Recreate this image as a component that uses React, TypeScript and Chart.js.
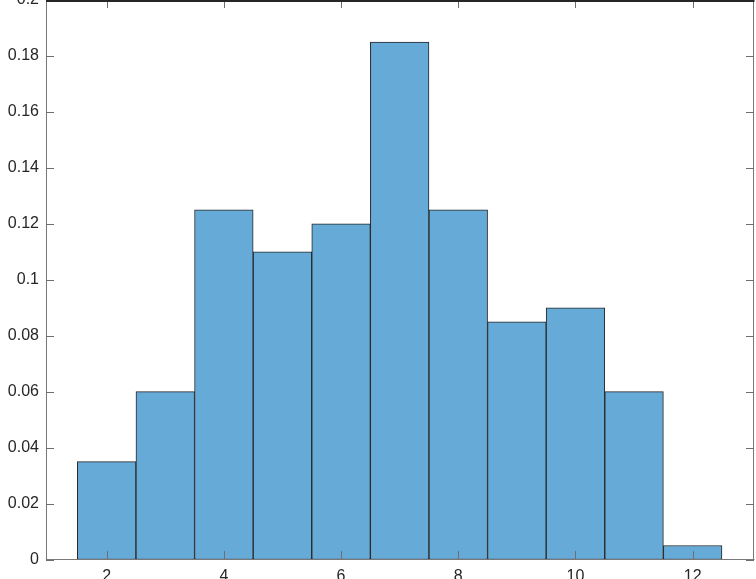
import React, { useEffect, useRef } from "react";
import { Chart, registerables } from "chart.js";

Chart.register(...registerables);

const binCenters = [2, 3, 4, 5, 6, 7, 8, 9, 10, 11, 12];
const probabilities = [0.035, 0.06, 0.125, 0.11, 0.12, 0.185, 0.125, 0.085, 0.09, 0.06, 0.005];
const xTickValues = [2, 4, 6, 8, 10, 12];
const xTickLabels = ["2", "4", "6", "8", "10", "12"];
const yTickValues = [0, 0.02, 0.04, 0.06, 0.08, 0.1, 0.12, 0.14, 0.16, 0.18, 0.2];
const yTickLabels = ["0", "0.02", "0.04", "0.06", "0.08", "0.1", "0.12", "0.14", "0.16", "0.18", "0.2"];

const FONT = { family: "'Liberation Sans', Arial, Helvetica, sans-serif", size: 16 };
const TEXT = "#262626";

const boxPlugin = {
  id: "matlabBox",
  afterDraw(chart: any) {
    const { ctx, chartArea, scales } = chart;
    const { left, right, top, bottom } = chartArea;
    const x = scales.x;
    const y = scales.y;
    ctx.save();
    ctx.fillStyle = "rgb(120,120,120)";
    ctx.fillRect(Math.floor(left), top, 1, bottom - top);
    ctx.fillRect(Math.floor(right) - 1, top, 1, bottom - top);
    ctx.fillRect(left, Math.floor(bottom), right - left, 1);
    const tl = 8;
    ctx.fillStyle = "rgb(110,110,110)";
    xTickValues.forEach((v) => {
      const px = Math.round(x.getPixelForValue(v));
      ctx.fillRect(px, Math.floor(bottom) - tl, 1, tl);
      ctx.fillRect(px, top, 1, tl);
    });
    yTickValues.forEach((v) => {
      const py = Math.round(y.getPixelForValue(v));
      ctx.fillRect(left, py, tl, 1);
      ctx.fillRect(Math.floor(right) - tl, py, tl, 1);
    });
    ctx.fillStyle = "#262626";
    ctx.fillRect(left, top, right - left, 2);
    ctx.restore();
  },
};

export default function App() {
  const ref = useRef<HTMLCanvasElement | null>(null);

  useEffect(() => {
    if (!ref.current) return;
    const chart = new Chart(ref.current, {
      type: "bar",
      data: {
        datasets: [
          {
            data: binCenters.map((c, i) => ({ x: c, y: probabilities[i] })),
            backgroundColor: "rgb(102,170,215)",
            borderColor: "rgb(38,38,38)",
            borderWidth: 1,
            borderSkipped: false,
            barPercentage: 1,
            categoryPercentage: 1,
          },
        ],
      },
      options: {
        animation: false,
        responsive: false,
        devicePixelRatio: 1,
        layout: { padding: { top: 20, right: 1.5, left: 0, bottom: 0 } },
        plugins: { legend: { display: false }, tooltip: { enabled: false } },
        scales: {
          x: {
            type: "linear",
            offset: false,
            min: 0.965,
            max: 13.055,
            grid: { display: false, drawTicks: false },
            border: { display: false },
            afterBuildTicks: (s: any) => {
              s.ticks = xTickValues.map((v) => ({ value: v }));
            },
            afterFit: (s: any) => {
              s.height = 19.5;
            },
            ticks: {
              autoSkip: false,
              maxRotation: 0,
              padding: 7,
              color: TEXT,
              font: FONT,
              callback: (_v: any, i: number) => xTickLabels[i],
            },
          },
          y: {
            type: "linear",
            min: 0,
            max: 0.2,
            grid: { display: false, drawTicks: false },
            border: { display: false },
            afterBuildTicks: (s: any) => {
              s.ticks = yTickValues.map((v) => ({ value: v }));
            },
            afterFit: (s: any) => {
              s.width = 46;
            },
            ticks: {
              autoSkip: false,
              padding: 7,
              color: TEXT,
              font: FONT,
              callback: (_v: any, i: number) => yTickLabels[i],
            },
          },
        },
      },
      plugins: [boxPlugin],
    });
    return () => chart.destroy();
  }, []);

  return (
    <div
      style={{
        position: "fixed",
        left: 0,
        top: -20,
        width: 756,
        height: 599,
        overflow: "hidden",
        background: "#fff",
      }}
    >
      <canvas ref={ref} width={756} height={599} style={{ width: 756, height: 599, display: "block" }} />
    </div>
  );
}
